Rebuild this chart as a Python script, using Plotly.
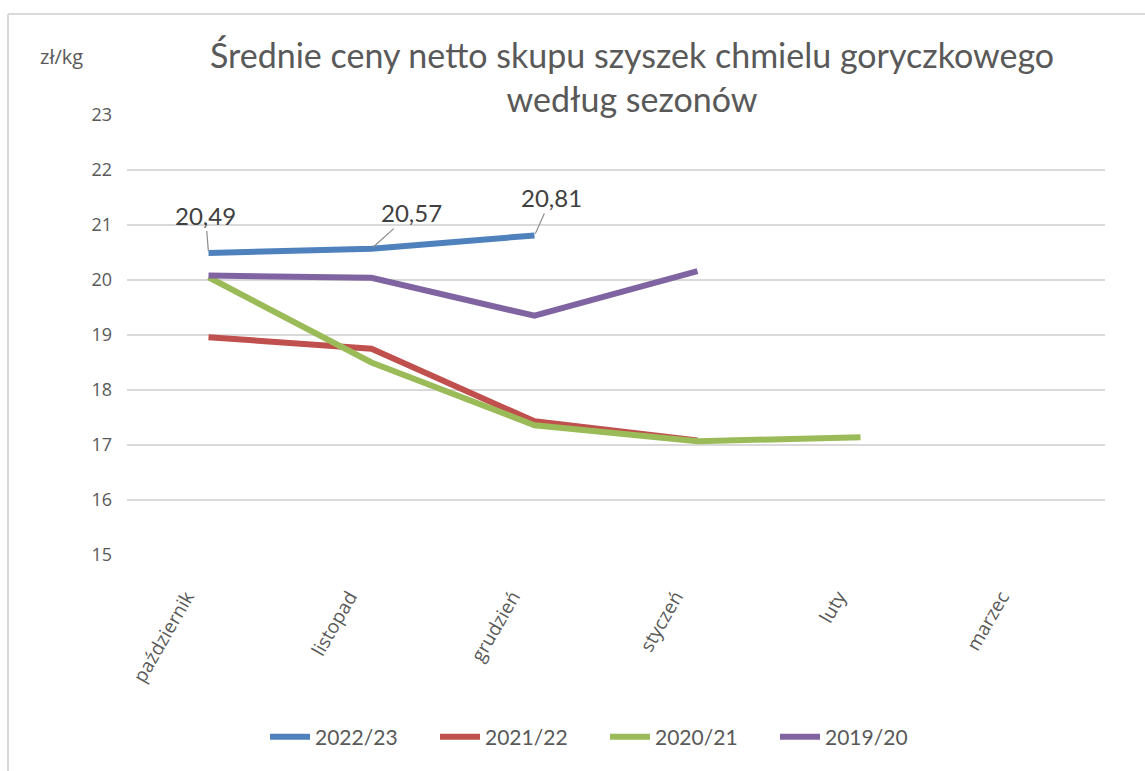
import plotly.graph_objects as go

months = ["październik", "listopad", "grudzień", "styczeń", "luty", "marzec"]

s2022_23 = [20.49, 20.57, 20.81]
s2021_22 = [18.96, 18.75, 17.43, 17.08]
s2020_21 = [20.05, 18.50, 17.36, 17.07, 17.14]
s2019_20 = [20.08, 20.04, 19.35, 20.16]

series_names = ["2022/23", "2021/22", "2020/21", "2019/20"]
series_values = [s2022_23, s2021_22, s2020_21, s2019_20]
colors = ["#4F81BD", "#C0504D", "#9BBB59", "#8064A2"]

label_offsets = [(-3, -38), (40, -36), (17, -38)]

FONT = "Lato"
W, H = 1145, 771
L, R, T, B = 127, 40, 115, 216
pw, ph = W - L - R, H - T - B

def px_x(p):
    return (p - L) / pw

def px_y(p):
    return (H - B - p) / ph

fig = go.Figure()
for name, vals, col in zip(series_names, series_values, colors):
    fig.add_trace(go.Scatter(
        x=months[:len(vals)], y=vals, mode="lines", name=name,
        line=dict(color=col, width=6), hoverinfo="skip"))

annotations = []
for (m, v), (ax, ay) in zip(zip(months, s2022_23), label_offsets):
    annotations.append(dict(
        x=m, y=v, xref="x", yref="y", text=f"{v:.2f}".replace(".", ","),
        showarrow=True, arrowhead=0, arrowwidth=1.2, arrowcolor="#8c8c8c",
        ax=ax, ay=ay, standoff=2,
        font=dict(family=FONT, size=24, color="#404040")))

annotations.append(dict(
    x=px_x(632), y=px_y(76), xref="paper", yref="paper",
    text="Średnie ceny netto skupu szyszek chmielu goryczkowego<br>według sezonów",
    showarrow=False, xanchor="center", yanchor="middle",
    font=dict(family=FONT, size=34, color="#595959")))

annotations.append(dict(
    x=px_x(38), y=px_y(56), xref="paper", yref="paper", text="zł/kg",
    showarrow=False, xanchor="left", yanchor="middle",
    font=dict(family="Open Sans", size=20, color="#595959")))

shapes = [
    dict(type="line", xref="paper", yref="paper", x0=px_x(8), x1=px_x(1150),
         y0=px_y(14), y1=px_y(14), line=dict(color="#d9d9d9", width=2)),
    dict(type="line", xref="paper", yref="paper", x0=px_x(8), x1=px_x(8),
         y0=px_y(14), y1=px_y(775), line=dict(color="#d9d9d9", width=2)),
]

fig.update_layout(
    width=W, height=H,
    margin=dict(l=L, r=R, t=T, b=B),
    paper_bgcolor="white", plot_bgcolor="white",
    showlegend=True,
    legend=dict(orientation="h", x=px_x(605), y=px_y(737), xanchor="center",
                yanchor="middle", font=dict(family=FONT, size=21, color="#595959"),
                entrywidth=115, entrywidthmode="pixels", itemwidth=40),
    annotations=annotations,
    shapes=shapes,
    xaxis=dict(type="category", categoryorder="array", categoryarray=months,
               range=[-0.5, len(months) - 0.5], showgrid=False, zeroline=False,
               showline=False, ticks="", tickangle=-60, ticklabelstandoff=26,
               ticklabelshift=-22,
               tickfont=dict(family="Open Sans", size=19, color="#595959")),
    yaxis=dict(range=[15, 23], dtick=1, showgrid=True, gridcolor="#d9d9d9",
               gridwidth=2, zeroline=False, showline=False, ticks="",
               ticklabelstandoff=14,
               tickfont=dict(family="Open Sans", size=18, color="#595959")),
)

fig.write_html("out.html", config={"displayModeBar": False},
               post_script="document.body.style.margin='0';document.body.style.overflow='hidden';")
